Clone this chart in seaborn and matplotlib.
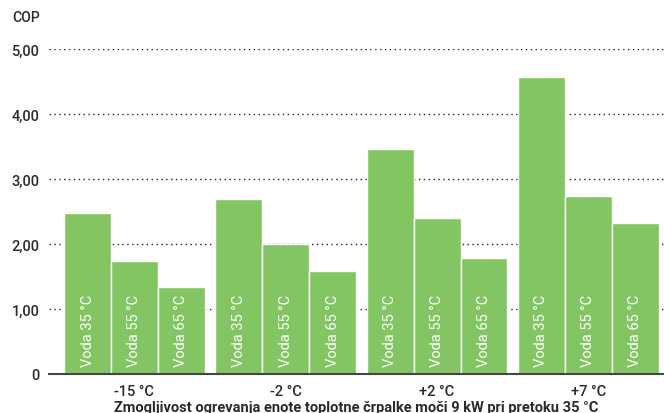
import matplotlib
matplotlib.use("Agg")
import matplotlib.pyplot as plt
import seaborn as sns
import pandas as pd

temps = ["-15 °C", "-2 °C", "+2 °C", "+7 °C"]
waters = ["Voda 35 °C", "Voda 55 °C", "Voda 65 °C"]
cop_35 = [2.48, 2.69, 3.46, 4.57]
cop_55 = [1.74, 2.00, 2.40, 2.74]
cop_65 = [1.34, 1.58, 1.78, 2.32]
yticks = [0, 1, 2, 3, 4, 5]
ytick_labels = ["0", "1,00", "2,00", "3,00", "4,00", "5,00"]
x_title = "Zmogljivost ogrevanja enote toplotne črpalke moči 9 kW pri pretoku 35 °C"
y_title = "COP"

rows = []
for w, vals in zip(waters, [cop_35, cop_55, cop_65]):
    for t, v in zip(temps, vals):
        rows.append({"temp": t, "voda": w, "cop": v})
df = pd.DataFrame(rows)

sns.set_theme(style="white")
plt.rcParams["font.family"] = ["Roboto", "DejaVu Sans"]
text_color = "#2b2b2b"
green = "#83C562"

fig = plt.figure(figsize=(6.64, 4.14), dpi=100)
ax = fig.add_axes([49 / 664, 39 / 414, 1 - 49 / 664, (375 - 50) / 414])

sns.barplot(data=df, x="temp", y="cop", hue="voda", order=temps, hue_order=waters,
            palette=[green] * 3, saturation=1, width=0.93, edgecolor="white", linewidth=1,
            legend=False, ax=ax, zorder=3)

ax.set_ylim(0, 5)
ax.set_xlim(-0.565, 3.5)
ax.set_yticks(yticks)
ax.set_yticklabels(ytick_labels)
ax.tick_params(axis="both", length=0, labelsize=10.5, colors=text_color, pad=7)
ax.tick_params(axis="y", pad=7)
for lbl in ax.get_xticklabels() + ax.get_yticklabels():
    lbl.set_fontweight("medium")

for y in yticks[1:]:
    ax.axhline(y, color="#222222", linestyle=(0, (1, 2.5)), linewidth=1, zorder=1)

for s in ["top", "right", "left"]:
    ax.spines[s].set_visible(False)
ax.spines["bottom"].set_color("#444444")
ax.spines["bottom"].set_linewidth(1.5)
ax.spines["bottom"].set_zorder(4)

ax.set_ylabel("")
ax.set_xlabel(x_title, fontsize=10.5, color=text_color, fontweight="bold", labelpad=2)
fig.text(12 / 664, 1 - 18 / 414, y_title, fontsize=10, color=text_color,
         fontweight="medium", va="center", ha="left")

for container, w in zip(ax.containers, waters):
    for bar in container:
        cx = bar.get_x() + bar.get_width() / 2
        ax.text(cx, 0.12, w, rotation=90, ha="center", va="bottom", color="white",
                fontsize=10.5, zorder=5)

fig.savefig("out.png", dpi=100)
